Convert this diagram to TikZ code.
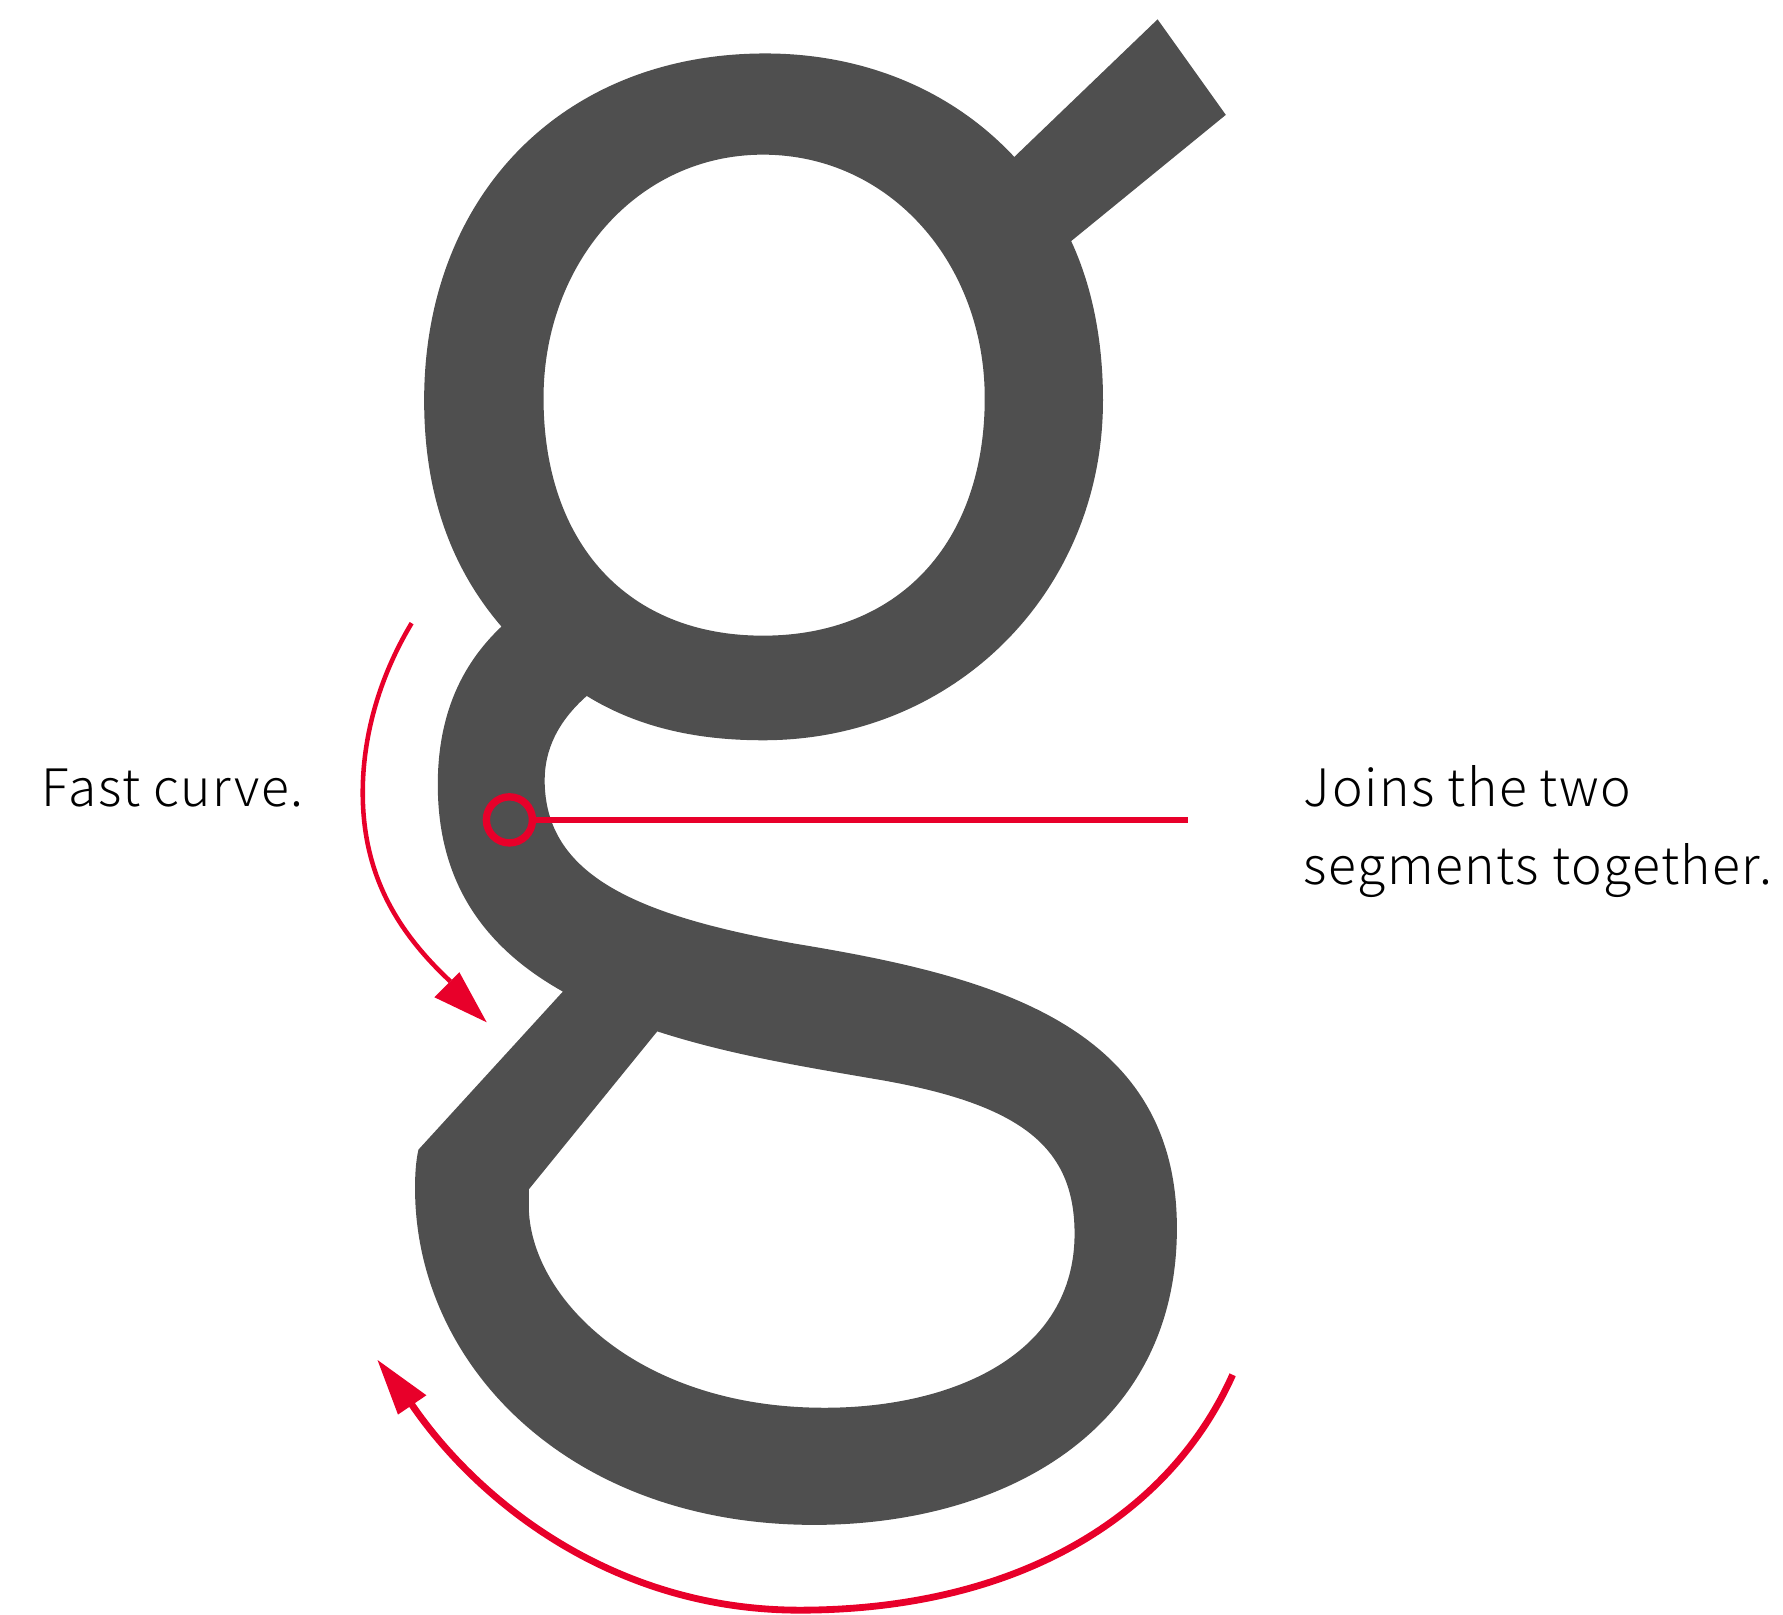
\documentclass[tikz,border=0pt]{standalone}
\usepackage{fontspec}
\IfFontExistsTF{Noto Sans CJK JP Light}
  {\setmainfont{Noto Sans CJK JP Light}[LetterSpace=3]}
  {\setmainfont{Noto Sans CJK JP}[LetterSpace=1]}
\definecolor{glyph}{RGB}{79,79,79}
\definecolor{mark}{RGB}{232,0,42}
\begin{document}
\begin{tikzpicture}[x=0.01cm,y=-0.01cm,
  label/.style={anchor=base west,inner sep=0pt,font=\fontsize{12.9pt}{16pt}\selectfont},
  redline/.style={draw=mark,line width=0.04cm},
  tipfill/.style={fill=mark}]
\useasboundingbox (0,0) rectangle (1568,1420);
% the letter g
\fill[glyph, even odd rule]
 (892,138) -- (1018,17) -- (1078,101) -- (942,212)
 .. controls (962,255) and (970,304) .. (970,352)
 .. controls (970,520) and (840,651) .. (671,651)
 .. controls (616,651) and (563,641) .. (516,612)
 .. controls (490,635) and (479,660) .. (479,686)
 .. controls (479,770) and (560,805) .. (700,830)
 .. controls (870,858) and (1035,900) .. (1035,1080)
 .. controls (1035,1260) and (880,1341) .. (716,1341)
 .. controls (500,1341) and (365,1200) .. (365,1045)
 .. controls (365,1030) and (366,1020) .. (368,1011) -- (495,872)
 .. controls (420,830) and (385,770) .. (385,690)
 .. controls (385,630) and (405,585) .. (441,551)
 .. controls (392,494) and (373,426) .. (373,352)
 .. controls (373,172) and (495,47) .. (673,47)
 .. controls (758,47) and (836,78) .. (892,138) -- cycle
 (671,136) .. controls (783,136) and (866,232) .. (866,350)
 .. controls (866,478) and (790,559) .. (671,559)
 .. controls (552,559) and (478,478) .. (478,350)
 .. controls (478,232) and (560,136) .. (671,136) -- cycle
 (578,907) -- (465,1046) -- (465,1060)
 .. controls (465,1140) and (560,1238) .. (725,1238)
 .. controls (840,1238) and (945,1190) .. (945,1085)
 .. controls (945,1010) and (900,972) .. (776,950)
 .. controls (700,937) and (640,927) .. (578,907) -- cycle;
% fast curve arrow
\coordinate (fcStart) at (362,548);
\coordinate (fcEnd) at (396,863);
\draw[redline] (fcStart) .. controls (332,598) and (319,650) .. (319,697)
  .. controls (319,770) and (350,820) .. (fcEnd);
\fill[tipfill] (428,899) -- (382,877) -- (404,855) -- cycle;
% joining point
\node[circle, draw=mark, line width=0.065cm, minimum size=0.405cm, inner sep=0pt] (ring) at (448,721) {};
\coordinate (joinEnd) at (1045,721);
\draw[draw=mark, line width=0.05cm] (ring.east) -- (joinEnd);
% bottom arrow
\coordinate (bStart) at (1084,1209);
\coordinate (bEnd) at (362,1235);
\draw[draw=mark, line width=0.06cm] (bStart) .. controls (1030,1330) and (900,1415) .. (706,1416)
  .. controls (540,1417) and (420,1320) .. (bEnd);
\fill[tipfill] (332,1196) -- (350,1244) -- (375,1227) -- cycle;
% labels
\node[label] (fast) at (36,709) {Fast curve.};
\node[label] (join1) at (1146,709) {Joins the two};
\node[label] (join2) at (1146,778) {segments together.};
\end{tikzpicture}
\end{document}
